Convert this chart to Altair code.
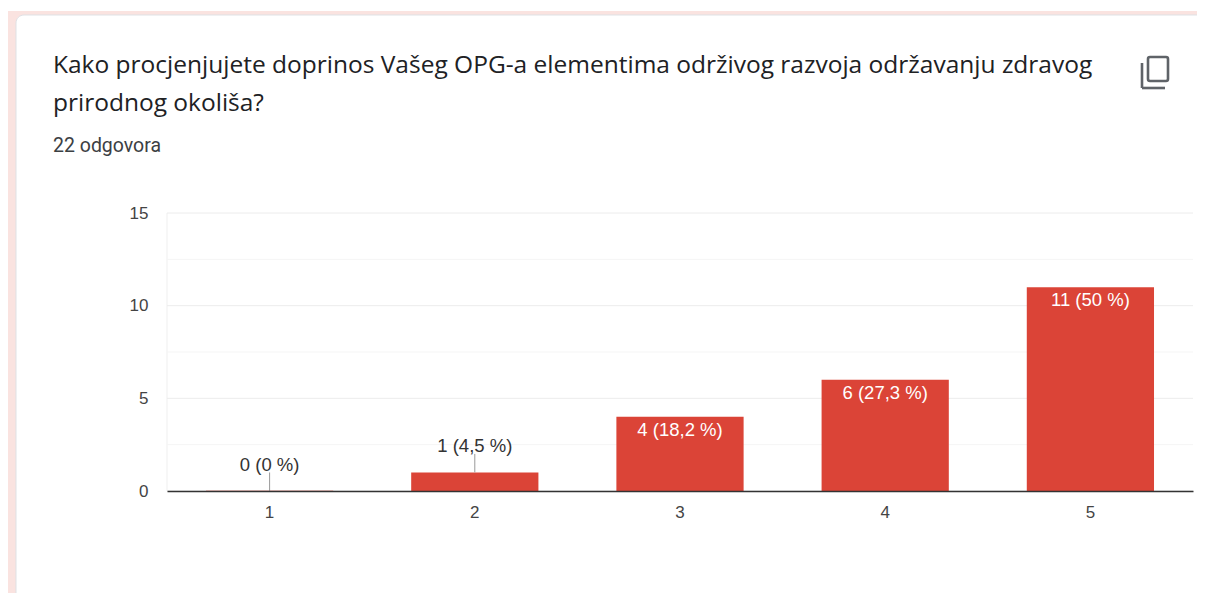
import altair as alt
import pandas as pd

categories = ["1", "2", "3", "4", "5"]
counts = [0, 1, 4, 6, 11]
labels = ["0 (0 %)", "1 (4,5 %)", "4 (18,2 %)", "6 (27,3 %)", "11 (50 %)"]
major_ticks = [0, 5, 10, 15]
minor_ticks = [2.5, 7.5, 12.5]
title_line_1 = "Kako procjenjujete doprinos Vašeg OPG-a elementima održivog razvoja održavanju zdravog"
title_line_2 = "prirodnog okoliša?"
subtitle = "22 odgovora"

df = pd.DataFrame({"cat": categories, "n": counts, "label": labels})
df["leader_end"] = df["n"] + 1
outside = df[df["n"] < 2]
inside = df[df["n"] >= 2]
zero = df[df["n"] == 0]
one = pd.DataFrame({"a": [0]})

PW, PH = 1026, 278
TICK_FONT = "Liberation Sans"
x = alt.X("cat:N", sort=categories, title=None,
          scale=alt.Scale(paddingInner=0.38, paddingOuter=0.19),
          axis=alt.Axis(labelAngle=0, labelFont=TICK_FONT, labelFontSize=17, labelColor="#444444",
                        labelPadding=13, tickSize=0, domainColor="#333333", domainWidth=1.6, grid=False,
                        zindex=1))
y_axis = alt.Axis(values=major_ticks, labelFont=TICK_FONT, labelFontSize=17, labelColor="#444444",
                  labelPadding=19, tickSize=0, domain=False, grid=False, zindex=1)
y_scale = alt.Scale(domain=[0, 15], nice=False)
y = alt.Y("n:Q", title=None, scale=y_scale, axis=y_axis)
ymin = alt.Y("v:Q", title=None, scale=y_scale, axis=y_axis)

pink = alt.Chart(one).mark_rect(color="#fae3e0").encode(
    x=alt.value(-160), x2=alt.value(1050), y=alt.value(-202), y2=alt.value(400))
card = alt.Chart(one).mark_rect(
    color="#ffffff", stroke="#dfe1e5", strokeWidth=1, cornerRadius=8).encode(
    x=alt.value(-151), x2=alt.value(1060), y=alt.value(-198), y2=alt.value(420))


def text_line(txt, py, font, size, color):
    return alt.Chart(pd.DataFrame({"t": [txt]})).mark_text(
        font=font, fontSize=size, color=color, align="left", baseline="middle"
    ).encode(text="t:N", x=alt.value(-114), y=alt.value(py))


title1 = text_line(title_line_1, -147, "Open Sans", 24.5, "#202124")
title2 = text_line(title_line_2, -109, "Open Sans", 24.5, "#202124")
sub = text_line(subtitle, -67, "Roboto", 19.5, "#3c4043")

icon_box = alt.Chart(one).mark_rect(
    fill=None, stroke="#5f6368", strokeWidth=2.6, cornerRadius=2).encode(
    x=alt.value(981), x2=alt.value(1001), y=alt.value(-156), y2=alt.value(-132))
icon_v = alt.Chart(one).mark_rule(color="#5f6368", strokeWidth=2.6).encode(
    x=alt.value(975), y=alt.value(-150), y2=alt.value(-125))
icon_h = alt.Chart(one).mark_rule(color="#5f6368", strokeWidth=2.6).encode(
    x=alt.value(975), x2=alt.value(998), y=alt.value(-125))

left_line = alt.Chart(one).mark_rule(color="#efefef").encode(
    x=alt.value(0), y=alt.value(0), y2=alt.value(PH))
major = alt.Chart(pd.DataFrame({"v": major_ticks})).mark_rule(color="#ececec").encode(y=ymin)
minor = alt.Chart(pd.DataFrame({"v": minor_ticks})).mark_rule(color="#f5f5f5").encode(y=ymin)

bars = alt.Chart(df).mark_bar(color="#db4437").encode(x=x, y=y)
zero_bar = alt.Chart(zero).mark_bar(color="#db4437", stroke="#db4437", strokeOpacity=0.3, strokeWidth=1).encode(x=x, y=y)
leaders = alt.Chart(outside).mark_rule(color="#999999", strokeWidth=1).encode(x=x, y=y, y2="leader_end:Q")
lab_out = alt.Chart(outside).mark_text(
    font=TICK_FONT, fontSize=18.5, color="#333333", dy=-26.5, baseline="middle"
).encode(x=x, y=y, text="label:N")
lab_in = alt.Chart(inside).mark_text(
    font=TICK_FONT, fontSize=18.5, color="#ffffff", dy=13, baseline="middle"
).encode(x=x, y=y, text="label:N")

chart = alt.layer(
    pink, card, left_line, major, minor, bars, zero_bar, leaders, lab_out, lab_in,
    title1, title2, sub, icon_box, icon_v, icon_h
).properties(
    width=PW, height=PH,
    padding={"left": 159, "top": 205, "right": 4, "bottom": 102},
    autosize=alt.AutoSizeParams(type="none"),
).configure_view(stroke=None)

chart.save("out.html", embed_options={"renderer": "svg", "actions": False})
